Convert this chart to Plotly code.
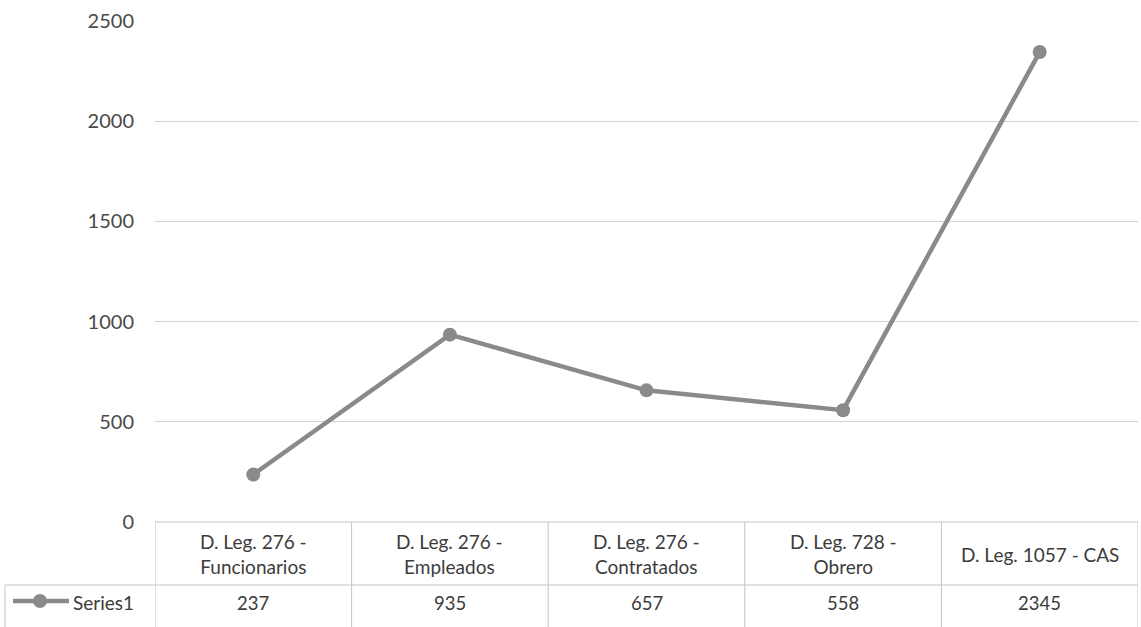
import plotly.graph_objects as go

# Chart data
categories = [
    "D. Leg. 276 -<br>Funcionarios",
    "D. Leg. 276 -<br>Empleados",
    "D. Leg. 276 -<br>Contratados",
    "D. Leg. 728 -<br>Obrero",
    "D. Leg. 1057 - CAS",
]
series_name = "Series1"
values = [237, 935, 657, 558, 2345]
y_ticks = [0, 500, 1000, 1500, 2000, 2500]

LINE_COLOR = "#8a8a8a"
GRID_COLOR = "#d2d2d2"
TABLE_COLOR = "#c4c4c4"
TEXT_COLOR = "#3c3c3c"
FONT = "Lato, Calibri, Carlito, sans-serif"

W, H = 1141, 627
M_L, M_R, M_T, M_B = 155, 3, 21, 105
plot_h = H - M_T - M_B
plot_w = W - M_L - M_R


def py(pixel_y):
    """Convert a page pixel row to paper y coordinate."""
    return (H - M_B - pixel_y) / plot_h


def px(pixel_x):
    """Convert a page pixel column to paper x coordinate."""
    return (pixel_x - M_L) / plot_w


x_idx = list(range(len(categories)))

fig = go.Figure()
fig.add_trace(
    go.Scatter(
        x=x_idx,
        y=values,
        mode="lines+markers",
        name=series_name,
        line=dict(color=LINE_COLOR, width=4.5),
        marker=dict(color=LINE_COLOR, size=14),
        showlegend=False,
        cliponaxis=False,
    )
)

# Data table under the plot area
row_div = py(585)
row_bottom = py(630)
key_left = px(5)

shapes = []
# top border of the category row (also the zero baseline)
shapes.append(dict(type="line", xref="x", yref="paper", x0=-0.5, x1=len(categories) - 0.5,
                   y0=0, y1=0, line=dict(color=TABLE_COLOR, width=1)))
# border between category row and value row
shapes.append(dict(type="line", xref="paper", yref="paper", x0=key_left, x1=1,
                   y0=row_div, y1=row_div, line=dict(color=TABLE_COLOR, width=1)))
# column dividers
for i in range(len(categories) + 1):
    shapes.append(dict(type="line", xref="x", yref="paper", x0=i - 0.5, x1=i - 0.5,
                       y0=0, y1=row_bottom, line=dict(color=TABLE_COLOR, width=1)))
# left edge of the series key cell
shapes.append(dict(type="line", xref="paper", yref="paper", x0=key_left, x1=key_left,
                   y0=row_div, y1=row_bottom, line=dict(color=TABLE_COLOR, width=1)))

# series key: line with a marker
key_y = py(601)
shapes.append(dict(type="line", xref="paper", yref="paper", x0=px(13), x1=px(69),
                   y0=key_y, y1=key_y, line=dict(color=LINE_COLOR, width=4.5)))
shapes.append(dict(type="circle", xref="paper", yref="paper",
                   xsizemode="pixel", ysizemode="pixel",
                   xanchor=px(40), yanchor=key_y,
                   x0=-7, x1=7, y0=-7, y1=7,
                   fillcolor=LINE_COLOR, line=dict(color=LINE_COLOR, width=0)))

annotations = []
for i, (cat, v) in enumerate(zip(categories, values)):
    annotations.append(dict(x=i, xref="x", y=py(554), yref="paper", text=cat,
                            showarrow=False, xanchor="center", yanchor="middle",
                            font=dict(family=FONT, size=19, color=TEXT_COLOR)))
    annotations.append(dict(x=i, xref="x", y=py(603), yref="paper", text=str(v),
                            showarrow=False, xanchor="center", yanchor="middle",
                            font=dict(family=FONT, size=18.5, color=TEXT_COLOR)))
annotations.append(dict(x=px(71), xref="paper", y=py(602), yref="paper", text=series_name,
                        showarrow=False, xanchor="left", yanchor="middle",
                        font=dict(family=FONT, size=19, color=TEXT_COLOR)))

fig.update_layout(
    width=W,
    height=H,
    margin=dict(l=M_L, r=M_R, t=M_T, b=M_B, pad=0),
    paper_bgcolor="white",
    plot_bgcolor="white",
    font=dict(family=FONT, color=TEXT_COLOR),
    shapes=shapes,
    annotations=annotations,
    xaxis=dict(range=[-0.5, len(categories) - 0.5], showgrid=False, zeroline=False,
               showticklabels=False, showline=False, ticks=""),
    yaxis=dict(range=[0, 2500], tickvals=y_ticks, showgrid=True, gridcolor=GRID_COLOR,
               gridwidth=1, zeroline=False, showline=False, ticks="",
               tickfont=dict(family=FONT, size=20, color="#4a4a4a"),
               ticklabelstandoff=20),
)

fig.write_html("out.html")
